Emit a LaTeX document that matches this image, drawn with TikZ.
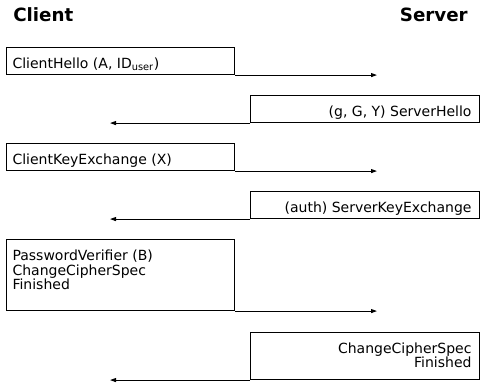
\documentclass[tikz,border=0pt]{standalone}
\usepackage{fontspec}
\setmainfont{DejaVu Sans}
\usetikzlibrary{arrows.meta}
\newdimen\pxu \pxu=0.75pt
\newcommand{\lbox}[2]{\parbox[t][#1\pxu][t]{228\pxu}{\baselineskip=14.5\pxu\leftskip=6\pxu\rightskip=0pt plus 1fil\parfillskip=0pt plus 1fil\rule{0pt}{21\pxu}#2}}
\newcommand{\rbox}[2]{\parbox[t][#1\pxu][t]{229\pxu}{\baselineskip=14.5\pxu\leftskip=0pt plus 1fil\rightskip=8\pxu\parfillskip=0pt\rule{0pt}{20.5\pxu}#2}}
\begin{document}
\begin{tikzpicture}[x=0.75pt,y=-0.75pt,
  title/.style={font=\fontsize{13.7pt}{16pt}\selectfont\bfseries, inner sep=0pt},
  msg/.style={draw, line width=0.8pt, inner sep=0pt, anchor=north west,
    font=\fontsize{10.5pt}{11pt}\selectfont},
  flow/.style={line width=0.75pt, -{Triangle[length=4.5pt,width=3pt]}}]
\useasboundingbox (0,0) rectangle (486,387);
\node[title, anchor=base west] (client) at (13,21) {Client};
\node[title, anchor=base east] (server) at (468,21) {Server};
% messages
\node[msg] (m1) at (6,47) {\lbox{27}{ClientHello (A, ID\textsubscript{user})}};
\node[msg] (m2) at (250,95) {\rbox{27}{(g, G, Y) ServerHello}};
\node[msg] (m3) at (6,143) {\lbox{27}{ClientKeyExchange (X)}};
\node[msg] (m4) at (250,191) {\rbox{27}{(auth) ServerKeyExchange}};
\node[msg] (m5) at (6,239) {\lbox{71}{PasswordVerifier (B)\par ChangeCipherSpec\par Finished}};
\node[msg] (m6) at (250,332) {\rbox{47}{ChangeCipherSpec\par Finished}};
% arrow ends
\coordinate (e1) at (377,74);
\coordinate (e2) at (110,122);
\coordinate (e3) at (377,170);
\coordinate (e4) at (110,218);
\coordinate (e5) at (377,310);
\coordinate (e6) at (110,379);
\draw[flow] (m1.south east) -- (m1.south east -| e1);
\draw[flow] (m2.south west) -- (m2.south west -| e2);
\draw[flow] (m3.south east) -- (m3.south east -| e3);
\draw[flow] (m4.south west) -- (m4.south west -| e4);
\draw[flow] (m5.south east) -- (m5.south east -| e5);
\draw[flow] (m6.south west) -- (m6.south west -| e6);
\end{tikzpicture}
\end{document}
